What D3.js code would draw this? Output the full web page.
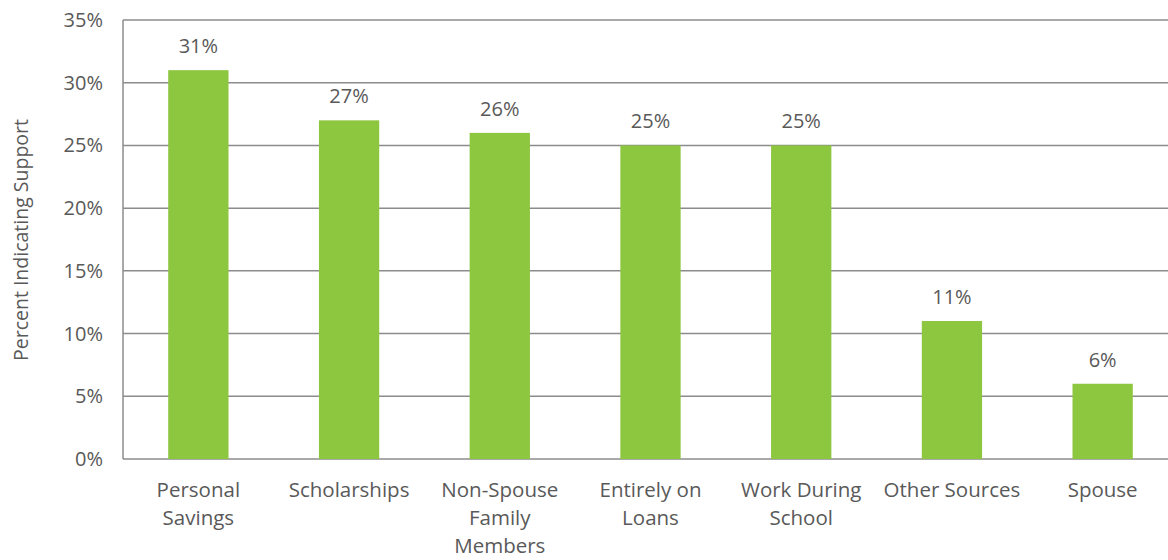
<!DOCTYPE html>
<html><head><meta charset="utf-8">
<script src="https://cdn.jsdelivr.net/npm/d3@7"></script>
<style>body{margin:0;background:#fff;} svg{display:block;font-family:"Open Sans",sans-serif;}</style>
</head><body>
<svg id="c" width="1168" height="560"></svg>
<script>
const categories = [["Personal","Savings"],["Scholarships"],["Non-Spouse","Family","Members"],["Entirely on","Loans"],["Work During","School"],["Other Sources"],["Spouse"]];
const values = [31, 27, 26, 25, 25, 11, 6];
const yTicks = [0, 5, 10, 15, 20, 25, 30, 35];
const yTitle = "Percent Indicating Support";

(function() {
const svg = d3.select("#c");
const mLeft = 123, mRight = 1178, mTop = 20, mBottom = 459;
const keys = categories.map(c => c.join(" "));
const x = d3.scaleBand().domain(keys).range([mLeft, mRight]).paddingInner(0.6).paddingOuter(0.3);
const y = d3.scaleLinear().domain([0, 35]).range([mBottom, mTop]);
const grey = "#8c8c8c", txt = "#595959";

svg.append("g").selectAll("line").data(yTicks).join("line")
  .attr("x1", mLeft).attr("x2", mRight)
  .attr("y1", d => y(d)).attr("y2", d => y(d))
  .attr("stroke", grey).attr("stroke-width", 1.5);
svg.append("line").attr("x1", mLeft).attr("x2", mLeft).attr("y1", y(35)).attr("y2", y(0))
  .attr("stroke", grey).attr("stroke-width", 1.5);

svg.append("g").selectAll("text").data(yTicks).join("text")
  .attr("x", 103).attr("y", d => y(d)).attr("dy", "0.35em")
  .attr("text-anchor", "end").attr("fill", txt).attr("font-size", 20)
  .text(d => d + "%");

svg.append("g").selectAll("rect").data(values).join("rect")
  .attr("x", (d, i) => x(keys[i])).attr("width", x.bandwidth())
  .attr("y", d => y(d)).attr("height", d => y(0) - y(d))
  .attr("fill", "#8dc63f");

svg.append("g").selectAll("text").data(values).join("text")
  .attr("x", (d, i) => x(keys[i]) + x.bandwidth() / 2)
  .attr("y", d => y(d) - 17)
  .attr("text-anchor", "middle").attr("fill", txt).attr("font-size", 20)
  .text(d => d + "%");

const lab = svg.append("g").selectAll("text").data(categories).join("text")
  .attr("y", 497).attr("text-anchor", "middle").attr("fill", txt).attr("font-size", 20.5);
lab.each(function(d, i) {
  const cx = x(keys[i]) + x.bandwidth() / 2;
  d3.select(this).selectAll("tspan").data(d).join("tspan")
    .attr("x", cx).attr("dy", (t, j) => j === 0 ? 0 : 28).text(t => t);
});

svg.append("text").attr("transform", "translate(28,240) rotate(-90)")
  .attr("text-anchor", "middle").attr("fill", txt).attr("font-size", 19.5)
  .text(yTitle);
})();
</script>
</body></html>
